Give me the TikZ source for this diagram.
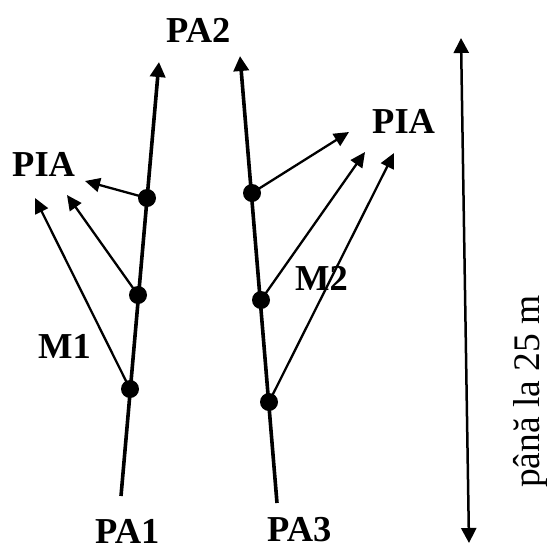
\documentclass[tikz,border=0pt]{standalone}
\usepackage{fontspec}
\setmainfont{Liberation Serif}
\usetikzlibrary{arrows.meta}
\begin{document}
\begin{tikzpicture}[x=1pt,y=-1pt,
  stem/.style={line width=3.6pt,-{Triangle[length=15pt,width=15pt]}},
  thin/.style={line width=2.3pt,-{Triangle[length=15pt,width=14pt]}},
  dot/.style={circle,fill=black,inner sep=0pt,minimum size=18pt},
  lbl/.style={inner sep=0pt,anchor=base west,font=\fontsize{36.5}{40}\selectfont\bfseries},
  span/.style={line width=2.5pt,{Triangle[length=15pt,width=15pt]}-{Triangle[length=15pt,width=15pt]}}]
\useasboundingbox (0,0) rectangle (551,550);
% stem end points
\coordinate (b1) at (121,496);
\coordinate (t1) at (159,62);
\coordinate (b3) at (277,503);
\coordinate (t2) at (240,56);
\draw[stem] (b1) -- (t1);
\draw[stem] (b3) -- (t2);
% dots
\node[dot] (l1) at (130,389) {};
\node[dot] (l2) at (138,295) {};
\node[dot] (l3) at (147,198) {};
\node[dot] (r1) at (269,402) {};
\node[dot] (r2) at (261,300) {};
\node[dot] (r3) at (252,193) {};
% arrow targets
\coordinate (a1) at (35,198);
\coordinate (a2) at (67,195);
\coordinate (a3) at (85,181);
\coordinate (c1) at (394,153);
\coordinate (c2) at (365,152);
\coordinate (c3) at (349,132);
\draw[thin] (l1.center) -- (a1);
\draw[thin] (l2.center) -- (a2);
\draw[thin] (l3.center) -- (a3);
\draw[thin] (r1.center) -- (c1);
\draw[thin] (r2.center) -- (c2);
\draw[thin] (r3.center) -- (c3);
% labels
\node[lbl] (pa2) at (166,42) {PA2};
\node[lbl] (piaL) at (12,176) {PIA};
\node[lbl] (piaR) at (372,133) {PIA};
\node[lbl] (m1) at (38,358) {M1};
\node[lbl] (m2) at (295,290) {M2};
\node[lbl] (pa1) at (95,543) {PA1};
\node[lbl] (pa3) at (267,541) {PA3};
% height span
\coordinate (h1) at (461,38);
\coordinate (h2) at (469,543);
\draw[span] (h1) -- (h2);
\node[inner sep=0pt,anchor=base west,rotate=90,font=\fontsize{37.5}{40}\selectfont] (len) at (539,488) {până la 25 m};
\end{tikzpicture}
\end{document}
